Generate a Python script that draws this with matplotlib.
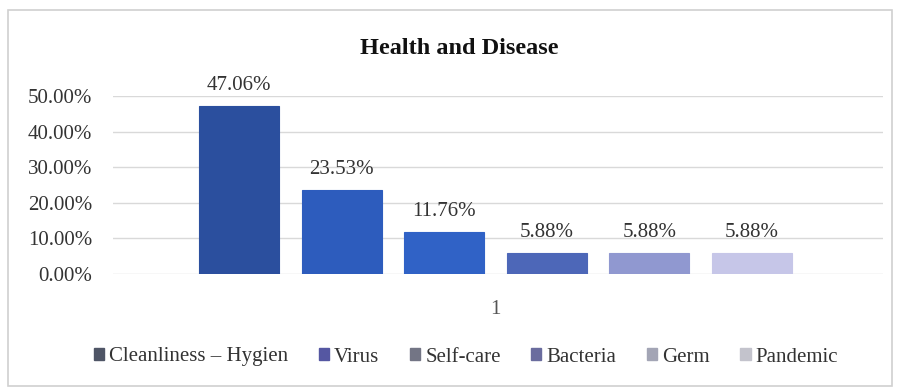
import matplotlib
matplotlib.use("Agg")
import matplotlib.pyplot as plt
from matplotlib.patches import Rectangle, Patch

# Share of responses per concept in the "Health and Disease" category
categories = ["Cleanliness \u2013 Hygien", "Virus", "Self-care", "Bacteria", "Germ", "Pandemic"]
values = [47.06, 23.53, 11.76, 5.88, 5.88, 5.88]
y_ticks = [0, 10, 20, 30, 40, 50]
group_label = "1"

bar_colors = ["#2b4f9e", "#2d5cbd", "#3062c6", "#4d67b8", "#9098d0", "#c6c6e8"]
legend_colors = ["#4f5566", "#5557a2", "#737585", "#6a6c9e", "#a3a5b5", "#c3c3cc"]

plt.rcParams["font.family"] = ["Liberation Serif", "DejaVu Serif"]

fig = plt.figure(figsize=(8.97, 3.87), dpi=100)
fig.patch.set_facecolor("white")

# outer chart frame
fig.patches.append(Rectangle((8 / 897, 1 / 387), 884 / 897, 376 / 387,
                             transform=fig.transFigure, fill=False,
                             edgecolor="#d0d0d0", linewidth=1.2))

ax = fig.add_axes([113 / 897, 113 / 387, 770 / 897, 178 / 387])
positions = list(range(len(values)))
bars = ax.bar(positions, values, width=0.78, color=bar_colors,
              edgecolor=[c for c in bar_colors], linewidth=0.8, zorder=3)

for b, v in zip(bars, values):
    ax.annotate(f"{v:.2f}%", (b.get_x() + b.get_width() / 2, v),
                xytext=(0, 8), textcoords="offset points",
                ha="center", va="bottom", fontsize=15, color="#333333")

ax.set_ylim(0, 50)
ax.set_xlim(-1.23, 6.28)
ax.set_yticks(y_ticks)
ax.set_yticklabels([f"{t:.2f}%" for t in y_ticks])
ax.set_xticks([2.5])
ax.set_xticklabels([group_label])
ax.tick_params(axis="y", length=0, pad=15, labelsize=15, labelcolor="#333333")
ax.tick_params(axis="x", length=0, pad=19, labelsize=15, labelcolor="#555555")
ax.yaxis.grid(True, color="#d9d9d9", linewidth=1.0, zorder=0)
ax.set_axisbelow(True)
for s in ax.spines.values():
    s.set_visible(False)

fig.text(459 / 897, 1 - 48 / 387, "Health and Disease", ha="center", va="center",
         fontsize=17.5, fontweight="bold", color="#111111")

handles = [Patch(facecolor=c, edgecolor=c) for c in legend_colors]
fig.legend(handles, categories, loc="center", bbox_to_anchor=(466 / 897, 1 - 357 / 387),
           ncol=6, frameon=False, fontsize=15, handlelength=0.5, handleheight=0.5,
           handletextpad=0.25, columnspacing=1.45, labelcolor="#333333")

fig.savefig("out.png", dpi=100, facecolor="white")
